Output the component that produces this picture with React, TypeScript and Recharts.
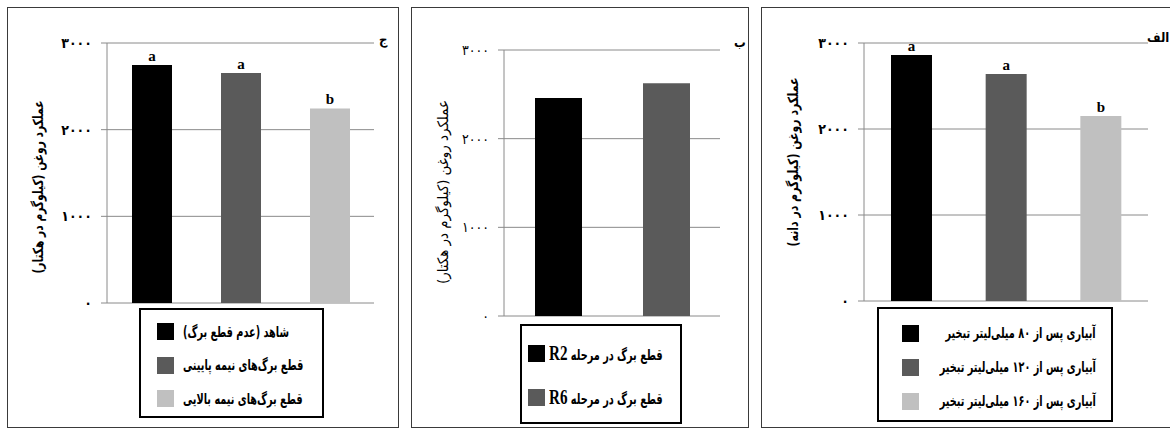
import React from 'react';
import { BarChart, Bar, XAxis, YAxis, CartesianGrid, Cell, LabelList } from 'recharts';

// panel ج : leaf removal
const leafCats = ['شاهد (عدم قطع برگ)', 'قطع برگ\u200cهای نیمه پایینی', 'قطع برگ\u200cهای نیمه بالایی'];
const leafValues = [2745, 2655, 2245];
const leafLetters = ['a', 'a', 'b'];

// panel ب : leaf removal stage
const stageCats = ['R2', 'R6'];
const stageValues = [2460, 2625];

// panel الف : irrigation
const irrCats = [
    'آبیاری پس از ۸۰ میلی\u200cلیتر تبخیر',
    'آبیاری پس از ۱۲۰ میلی\u200cلیتر تبخیر',
    'آبیاری پس از ۱۶۰ میلی\u200cلیتر تبخیر',
];
const irrValues = [2860, 2640, 2150];
const irrLetters = ['a', 'a', 'b'];

const yTicks = [0, 1000, 2000, 3000];
const barColors = ['#000000', '#5a5a5a', '#c0c0c0'];

const yLabelHa = 'عملکرد روغن (کیلوگرم در هکتار)';
const yLabelSeed = 'عملکرد روغن (کیلوگرم در دانه)';

const FA_FONT = '"DejaVu Sans Condensed", "DejaVu Sans", sans-serif';
const SERIF = '"Liberation Serif", "DejaVu Serif", serif';

const toFa = (v: number) => String(v).replace(/\d/g, d => '۰۱۲۳۴۵۶۷۸۹'[Number(d)]);

type PanelProps = {
    box: { left: number, top: number, width: number, height: number },
    chart: { left: number, width: number, height: number, margin: { top: number, right: number, bottom: number, left: number } },
    data: Array<{ name: string, value: number, letter?: string }>,
    barSize: number,
    letter: string,
    letterPos: { left: number, top: number },
    yLabel: string,
    yLabelPos: { x: number, y: number, size: number, length: number },
    bold: boolean,
    legend: {
        left: number, top: number, width: number, height: number,
        padTop: number, rowH: number, padLeft: number, padRight: number,
        gap: number, align: 'left' | 'right'
    },
    legendText: (name: string) => React.ReactNode,
};

const Panel = (p: PanelProps) => {
    const grid = '#8a8a8a';
    const right = p.legend.align === 'right';
    return (
        <>
            <div style={{
                position: 'absolute', left: p.box.left, top: p.box.top, width: p.box.width, height: p.box.height,
                border: '1.5px solid #3a3a3a', boxSizing: 'border-box'
            }} />
            <div style={{ position: 'absolute', left: p.chart.left, top: 0 }}>
                <BarChart width={p.chart.width} height={p.chart.height} data={p.data} margin={p.chart.margin}>
                    <CartesianGrid vertical={false} stroke={grid} />
                    <XAxis dataKey="name" tick={false} tickLine={false} height={0} axisLine={{ stroke: grid }} />
                    <YAxis
                        domain={[0, 3000]}
                        ticks={yTicks}
                        width={60}
                        interval={0}
                        axisLine={{ stroke: grid }}
                        tickLine={{ stroke: grid }}
                        tickSize={6}
                        tickMargin={9}
                        tickFormatter={toFa}
                        tick={{ fill: '#000', fontSize: 14, fontFamily: FA_FONT, fontWeight: p.bold ? 700 : 400 }}
                        label={{
                            content: () => (
                                <text x={p.yLabelPos.x} y={p.yLabelPos.y} transform={`rotate(-90 ${p.yLabelPos.x} ${p.yLabelPos.y})`}
                                    textAnchor="middle" dominantBaseline="central" direction="rtl"
                                    textLength={p.yLabelPos.length} lengthAdjust="spacingAndGlyphs"
                                    fontFamily={FA_FONT} fontWeight={p.bold ? 700 : 400} fontSize={p.yLabelPos.size} fill="#000">
                                    {p.yLabel}
                                </text>
                            )
                        }}
                    />
                    <YAxis yAxisId="frame" orientation="right" domain={[0, 3000]} width={0} tick={false} tickLine={false} axisLine={{ stroke: grid }} />
                    <Bar dataKey="value" barSize={p.barSize} isAnimationActive={false}>
                        {p.data.map((d, i) => <Cell key={d.name} fill={barColors[i]} />)}
                        {p.data[0].letter && (
                            <LabelList dataKey="letter" position="top" offset={4}
                                style={{ fill: '#000', fontFamily: SERIF, fontWeight: 700, fontSize: 15 }} />
                        )}
                    </Bar>
                </BarChart>
            </div>
            <div style={{
                position: 'absolute', left: p.letterPos.left, top: p.letterPos.top, fontFamily: FA_FONT,
                fontWeight: 700, fontSize: 13, direction: 'rtl', lineHeight: 1, whiteSpace: 'nowrap'
            }}>{p.letter}</div>
            <div style={{
                position: 'absolute', left: p.legend.left, top: p.legend.top, width: p.legend.width, height: p.legend.height,
                border: '2px solid #000', boxSizing: 'border-box', paddingTop: p.legend.padTop,
                paddingLeft: p.legend.padLeft, paddingRight: p.legend.padRight, background: '#fff'
            }}>
                {p.data.map((d, i) => (
                    <div key={d.name} style={{ height: p.legend.rowH, display: 'flex', alignItems: 'center' }}>
                        <div style={{ width: 17, height: 17, background: barColors[i], flex: 'none' }} />
                        <div style={{
                            flex: 1, minWidth: 0, marginLeft: p.legend.gap, direction: right ? 'rtl' : 'ltr', textAlign: 'start',
                            fontFamily: FA_FONT, fontWeight: 700, fontSize: 15, whiteSpace: 'nowrap'
                        }}>
                            <span dir="rtl" style={{
                                display: 'inline-block', transform: 'scaleX(0.72)',
                                transformOrigin: right ? 'right center' : 'left center'
                            }}>{p.legendText(d.name)}</span>
                        </div>
                    </div>
                ))}
            </div>
        </>
    );
};

const App = () => {
    const leafData = leafCats.map((name, i) => ({ name, value: leafValues[i], letter: leafLetters[i] }));
    const stageData = stageCats.map((name, i) => ({ name, value: stageValues[i] }));
    const irrData = irrCats.map((name, i) => ({ name, value: irrValues[i], letter: irrLetters[i] }));

    return (
        <div style={{ position: 'absolute', left: 0, top: 0, width: 1170, height: 428, overflow: 'hidden', background: '#fff' }}>
            <Panel
                box={{ left: 7, top: 7, width: 392, height: 421 }}
                chart={{ left: 0, width: 400, height: 320, margin: { top: 43, right: 26, bottom: 17, left: 47 } }}
                data={leafData}
                barSize={40}
                letter="ج"
                letterPos={{ left: 379, top: 33 }}
                yLabel={yLabelHa}
                yLabelPos={{ x: 38, y: 187, size: 14, length: 173 }}
                bold={true}
                legend={{ left: 139, top: 308, width: 185, height: 110, padTop: 5, rowH: 33.5, padLeft: 16, padRight: 4, gap: 9, align: 'left' }}
                legendText={(n) => n}
            />
            <Panel
                box={{ left: 411, top: 7, width: 338, height: 421 }}
                chart={{ left: 395, width: 360, height: 330, margin: { top: 50, right: 35, bottom: 14, left: 49 } }}
                data={stageData}
                barSize={47}
                letter="ب"
                letterPos={{ left: 734, top: 36 }}
                yLabel={yLabelHa}
                yLabelPos={{ x: 48, y: 192, size: 14.5, length: 184 }}
                bold={false}
                legend={{ left: 520, top: 324, width: 162, height: 100, padTop: 5, rowH: 44, padLeft: 6, padRight: 4, gap: 4, align: 'left' }}
                legendText={(n) => (
                    <>قطع برگ در مرحله <span style={{ fontFamily: SERIF, fontSize: 21, fontWeight: 700 }}>{n}</span></>
                )}
            />
            <Panel
                box={{ left: 761, top: 7, width: 420, height: 421 }}
                chart={{ left: 770, width: 400, height: 320, margin: { top: 43, right: 22, bottom: 19, left: 34 } }}
                data={irrData}
                barSize={41}
                letter="الف"
                letterPos={{ left: 1147, top: 31 }}
                yLabel={yLabelSeed}
                yLabelPos={{ x: 23, y: 162, size: 14, length: 169 }}
                bold={true}
                legend={{ left: 877, top: 307, width: 236, height: 115, padTop: 7, rowH: 34, padLeft: 23, padRight: 15, gap: 8, align: 'right' }}
                legendText={(n) => n}
            />
        </div>
    );
};

export default App;
